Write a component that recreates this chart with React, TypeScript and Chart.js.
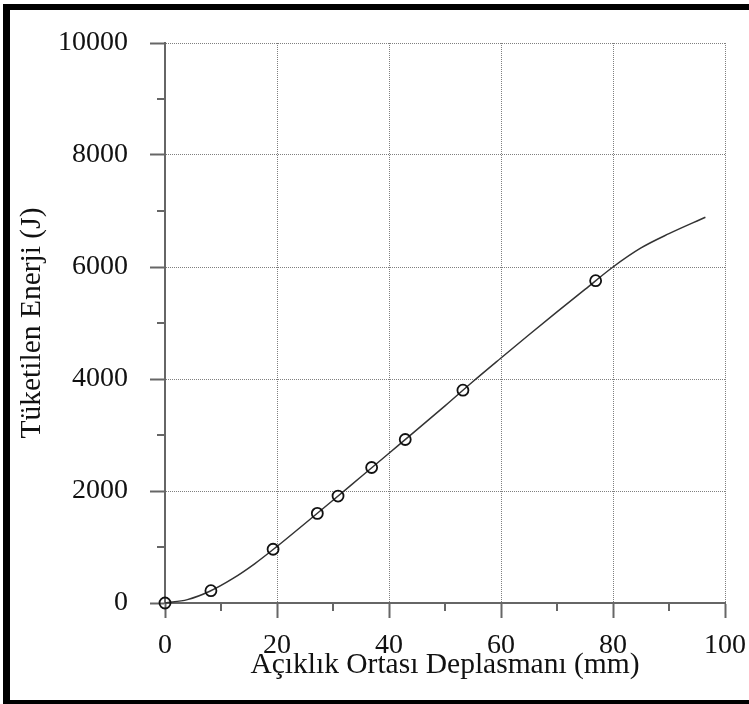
import React, { useEffect, useRef } from "react";
import { Chart, registerables } from "chart.js";

Chart.register(...registerables);

// Fitted curve
const curveX = [0, 4, 8, 12, 16, 20, 25, 30, 35, 40, 45, 50, 55, 60, 65, 70, 75, 80, 85, 90, 96.5];
const curveY = [0, 60, 210, 430, 700, 1010, 1420, 1835, 2255, 2675, 3095, 3520, 3955, 4375, 4790, 5200, 5600, 6000, 6340, 6595, 6888];

// Test points (circles)
const testX = [0, 8.2, 19.3, 27.2, 30.9, 36.9, 42.9, 53.2, 76.9];
const testY = [0, 220, 960, 1600, 1910, 2420, 2920, 3800, 5755];

// Tick values
const xMinorTicks = [10, 30, 50, 70, 90];
const yMinorTicks = [1000, 3000, 5000, 7000, 9000];

const xTitle = "Açıklık Ortası Deplasmanı (mm)";
const yTitle = "Tüketilen Enerji (J)";

const FONT = "'Liberation Serif', 'Times New Roman', serif";
const AXIS = "#666666";
const GRID = "rgba(0,0,0,0.5)";

const minorTickPlugin = {
  id: "minorTicks",
  afterDraw(chart: any) {
    const { ctx, chartArea, scales } = chart;
    const xs = scales.x;
    const ys = scales.y;
    ctx.save();
    ctx.strokeStyle = AXIS;
    ctx.lineWidth = 2;
    for (const v of xMinorTicks) {
      const px = Math.round(xs.getPixelForValue(v));
      ctx.beginPath();
      ctx.moveTo(px, chartArea.bottom);
      ctx.lineTo(px, chartArea.bottom + 8);
      ctx.stroke();
    }
    for (const v of yMinorTicks) {
      const py = Math.round(ys.getPixelForValue(v));
      ctx.beginPath();
      ctx.moveTo(chartArea.left, py);
      ctx.lineTo(chartArea.left - 8, py);
      ctx.stroke();
    }
    ctx.restore();
  },
};

export default function App() {
  const ref = useRef<HTMLCanvasElement | null>(null);

  useEffect(() => {
    if (!ref.current) return;
    const chart = new Chart(ref.current, {
      type: "scatter",
      data: {
        datasets: [
          {
            label: "Deney",
            data: testX.map((x, i) => ({ x, y: testY[i] })),
            pointRadius: 5.5,
            pointBorderWidth: 1.8,
            pointBorderColor: "#111",
            pointBackgroundColor: "rgba(0,0,0,0)",
            showLine: false,
            clip: false,
          } as any,
          {
            label: "Eğri",
            data: curveX.map((x, i) => ({ x, y: curveY[i] })),
            showLine: true,
            pointRadius: 0,
            borderColor: "#333",
            borderWidth: 1.5,
            cubicInterpolationMode: "monotone",
            clip: false,
          } as any,
        ],
      },
      options: {
        animation: false,
        responsive: false,
        devicePixelRatio: 1,
        layout: { padding: { left: 10, right: 24, top: 43, bottom: 10 } },
        plugins: {
          legend: { display: false },
          tooltip: { enabled: false },
        },
        scales: {
          x: {
            type: "linear",
            min: 0,
            max: 100,
            afterFit: (s: any) => {
              s.height = 91;
              s.paddingLeft = 0;
              s.paddingRight = 0;
            },
            ticks: {
              stepSize: 20,
              padding: 11,
              color: "#111",
              font: { family: FONT, size: 28 },
              maxRotation: 0,
              callback: (v: any) => String(v),
            },
            grid: {
              color: (c: any) => (c.tick && c.tick.value === 0 ? "rgba(0,0,0,0)" : GRID),
              lineWidth: 1,
              tickLength: 15,
              tickColor: AXIS,
              tickWidth: 2,
            },
            border: { display: true, color: AXIS, width: 2, dash: [1, 1] },
            title: {
              display: true,
              text: xTitle,
              color: "#111",
              font: { family: FONT, size: 29.5 },
              padding: { top: 0, bottom: 11 },
            },
          },
          y: {
            type: "linear",
            min: 0,
            max: 10000,
            afterFit: (s: any) => {
              s.width = 155;
              s.paddingTop = 0;
              s.paddingBottom = 0;
            },
            ticks: {
              stepSize: 2000,
              padding: 22,
              color: "#111",
              font: { family: FONT, size: 28 },
              callback: (v: any) => String(v),
            },
            grid: {
              color: (c: any) => (c.tick && c.tick.value === 0 ? "rgba(0,0,0,0)" : GRID),
              lineWidth: 1,
              tickLength: 15,
              tickColor: AXIS,
              tickWidth: 2,
            },
            border: { display: true, color: AXIS, width: 2, dash: [1, 1] },
            title: {
              display: true,
              text: yTitle,
              color: "#111",
              font: { family: FONT, size: 29.5 },
              padding: { top: 4.5, bottom: 0 },
            },
          },
        },
      },
      plugins: [minorTickPlugin],
    } as any);
    return () => chart.destroy();
  }, []);

  return (
    <div
      style={{
        position: "fixed",
        left: 0,
        top: 0,
        width: 749,
        height: 704,
        overflow: "hidden",
        background: "#fff",
      }}
    >
      <div
        style={{
          position: "absolute",
          left: 3,
          top: 4,
          width: 900,
          height: 702,
          boxSizing: "border-box",
          borderLeft: "7px solid #000",
          borderTop: "6px solid #000",
          borderBottom: "6px solid #000",
        }}
      />
      <canvas
        ref={ref}
        width={749}
        height={704}
        style={{ position: "absolute", left: 0, top: 0, width: 749, height: 704 }}
      />
    </div>
  );
}
